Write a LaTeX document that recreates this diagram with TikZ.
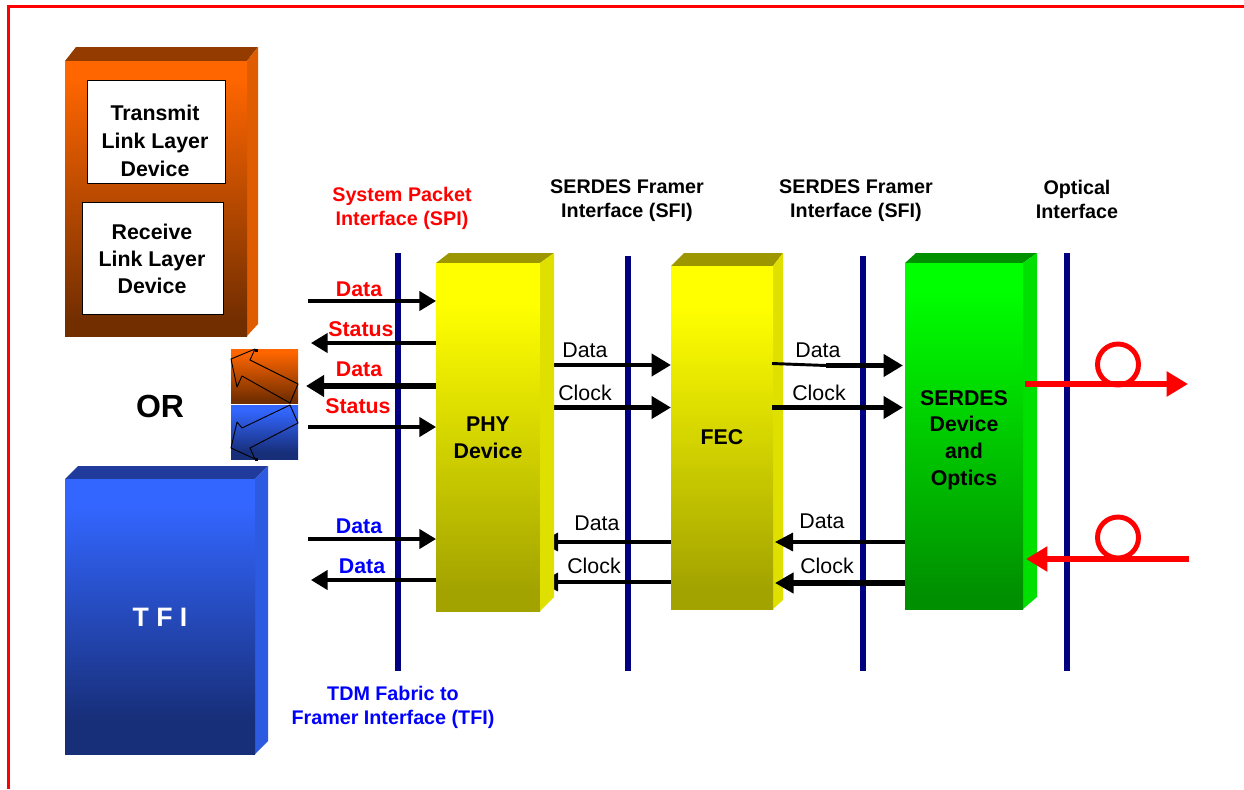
\documentclass[tikz,border=0pt]{standalone}
\usepackage{fontspec}
\setmainfont{Liberation Sans}
\usetikzlibrary{arrows.meta}
\definecolor{orT}{HTML}{FF6600}\definecolor{orB}{HTML}{732E00}
\definecolor{orS}{HTML}{E05C00}\definecolor{orU}{HTML}{943C00}
\definecolor{blT}{HTML}{3366FF}\definecolor{blB}{HTML}{172E78}
\definecolor{blS}{HTML}{2C5AE0}\definecolor{blU}{HTML}{1F3C9C}
\definecolor{yeT}{HTML}{FFFF00}\definecolor{yeB}{HTML}{A3A300}
\definecolor{yeU}{HTML}{9C9600}\definecolor{yeS}{HTML}{E0E000}
\definecolor{grT}{HTML}{00FF00}\definecolor{grB}{HTML}{008F00}
\definecolor{grS}{HTML}{00E000}\definecolor{grU}{HTML}{009000}
\definecolor{navyl}{HTML}{000080}
\pgfdeclareverticalshading{orangeg}{100bp}{color(0bp)=(orB); color(28bp)=(orB); color(72bp)=(orT); color(100bp)=(orT)}
\pgfdeclareverticalshading{blueg}{100bp}{color(0bp)=(blB); color(31bp)=(blB); color(70bp)=(blT); color(100bp)=(blT)}
\pgfdeclareverticalshading{yellowg}{100bp}{color(0bp)=(yeB); color(28bp)=(yeB); color(69bp)=(yeT); color(100bp)=(yeT)}
\pgfdeclareverticalshading{greeng}{100bp}{color(0bp)=(grB); color(27bp)=(grB); color(71bp)=(grT); color(100bp)=(grT)}
\tikzset{
  x=0.75pt,y=-0.75pt,
  boxfront/.style={inner sep=0,outer sep=0,align=center,font=\bfseries\fontsize{16}{20}\selectfont},
  whitebox/.style={draw=black,line width=0.7pt,fill=white,inner sep=0,outer sep=0},
  boxtext/.style={inner sep=0,align=center,font=\bfseries\fontsize{16}{20.5}\selectfont},
  bus/.style={draw=navyl,line width=4.5pt},
  thin arrow/.style={draw=black,line width=2.5pt,-{Triangle[length=12.5pt,width=14.5pt]}},
  big arrow/.style={draw=black,line width=4.7pt,-{Triangle[length=13.5pt,width=15.6pt]}},
  thick arrow/.style={draw=black,line width=3.7pt,-{Triangle[length=14.5pt,width=16.2pt]}},
  medium arrow/.style={draw=black,line width=2.4pt,-{Triangle[length=13.5pt,width=13.5pt]}},
  heavy back/.style={draw=black,line width=4pt,-{Triangle[length=14pt,width=15pt]}},
  red arrow/.style={draw=red,line width=4.4pt,-{Triangle[length=16pt,width=18pt]}},
  loopc/.style={draw=red,line width=3.7pt},
  hdr/.style={font=\bfseries\fontsize{14.8}{18}\selectfont,align=center,inner sep=0},
  lab/.style={font=\fontsize{16}{18}\selectfont,inner sep=0},
  redlab/.style={font=\bfseries\fontsize{16}{18}\selectfont,text=red,inner sep=0},
  bluelab/.style={font=\bfseries\fontsize{16}{18}\selectfont,text=blue,inner sep=0},
}
\begin{document}
\begin{tikzpicture}
\useasboundingbox (0,0) rectangle (1244,789);
\fill[white] (0,0) rectangle (1244,789);
% frame
\draw[red,line width=2.2pt] (8.5,789) -- (8.5,6.5) -- (1244,6.5);

% orange block
\fill[orU] (65,61) -- (76,47) -- (258,47) -- (247,61) -- cycle;
\fill[orS] (247,61) -- (258,47) -- (258,324) -- (247,336) -- cycle;
\node[boxfront,shade,shading=orangeg,minimum width={182*0.75pt},minimum height={275*0.75pt}] (llbox) at (156,198.5) {};
\node[whitebox,minimum width={138*0.75pt},minimum height={103*0.75pt}] (tx) at (156,131.5) {};
\node[boxtext,font=\bfseries\fontsize{16}{21}\selectfont] (txt) at (155,141) {Transmit\\Link Layer\\Device};
\node[whitebox,minimum width={141*0.75pt},minimum height={112*0.75pt}] (rx) at (152.5,258) {};
\node[boxtext] (rxt) at (152,259) {Receive\\Link Layer\\Device};

% OR
\node[font=\bfseries\fontsize{24}{26}\selectfont,inner sep=0] (ortext) at (160,406) {OR};

% small squares
\node[inner sep=0,outer sep=0,shade,shading=orangeg,minimum width={67*0.75pt},minimum height={54*0.75pt}] (orsq) at (264.5,376) {};
\node[inner sep=0,outer sep=0,shade,shading=blueg,minimum width={67*0.75pt},minimum height={54*0.75pt}] (blsq) at (264.5,432) {};
\draw[black,line width=0.7pt,line join=round] (231,359) -- (255,349) -- (250,360) -- (298,384) -- (290,403) -- (242,376) -- (237,387) -- cycle;
\draw[black,line width=0.7pt,line join=round] (231,448) -- (255,459) -- (250,448) -- (298,423) -- (290,405) -- (242,428) -- (237,422) -- cycle;
\fill[black] (254.5,348.5) rectangle (257.5,351.5);
\fill[black] (254.5,458) rectangle (257.5,461);

% blue block
\fill[blU] (65,479) -- (78,466) -- (268,466) -- (255,479) -- cycle;
\fill[blS] (255,479) -- (268,466) -- (268,741) -- (255,754) -- cycle;
\node[boxfront,shade,shading=blueg,minimum width={190*0.75pt},minimum height={275*0.75pt}] (tfi) at (160,616.5) {};
\node[font=\bfseries\fontsize{20}{22}\selectfont,text=white,inner sep=0] (tfitext) at (160,617) {T F I};

% buses
\coordinate (b1t) at (398,253); \coordinate (b1b) at (398,671);
\coordinate (b2t) at (628,256); \coordinate (b2b) at (628,671);
\coordinate (b3t) at (863,256); \coordinate (b3b) at (863,671);
\coordinate (b4t) at (1067,253); \coordinate (b4b) at (1067,671);
\draw[bus] (b1t) -- (b1b);
\draw[bus] (b2t) -- (b2b);
\draw[bus] (b3t) -- (b3b);
\draw[bus] (b4t) -- (b4b);

% PHY
\fill[yeU] (436,263) -- (449,253) -- (554,253) -- (540,263) -- cycle;
\node[boxfront,shade,shading=yellowg,minimum width={104*0.75pt},minimum height={348*0.75pt}] (phy) at (488,437) {};
\node[boxfront] (phyt) at (488,437.5) {PHY\\Device};

% FEC
\fill[yeU] (671,266) -- (684,253) -- (783,253) -- (773,266) -- cycle;
\fill[yeS] (773,266) -- (783,253) -- (783,600) -- (773,609) -- cycle;
\node[boxfront,shade,shading=yellowg,minimum width={102*0.75pt},minimum height={343*0.75pt}] (fec) at (722,437.5) {};
\node[boxfront] (fect) at (722,437) {FEC};

% SERDES
\fill[grU] (905,263) -- (916,253) -- (1037,253) -- (1023,263) -- cycle;
\fill[grS] (1023,263) -- (1037,253) -- (1037,597) -- (1023,609) -- cycle;
\node[boxfront,shade,shading=greeng,minimum width={118*0.75pt},minimum height={346*0.75pt}] (ser) at (964,436) {};
\node[boxfront] (sert) at (964,440) {SERDES\\Device\\and\\Optics};

% SPI connectors
\coordinate (sa) at (308,301); \coordinate (ss) at (311,343);
\coordinate (sd) at (306,386); \coordinate (st) at (308,427);
\draw[thin arrow] (sa) -- (phy.west |- sa);
\draw[thin arrow] (phy.west |- ss) -- (ss);
\draw[big arrow] (phy.west |- sd) -- (sd);
\draw[thin arrow] (st) -- (phy.west |- st);
% TFI connectors
\coordinate (ta) at (308,539); \coordinate (tb) at (311,580);
\draw[thin arrow] (ta) -- (phy.west |- ta);
\draw[thin arrow] (phy.west |- tb) -- (tb);

% PHY-FEC
\coordinate (pf1) at (554,365); \coordinate (pf2) at (554,407.5);
\draw[thick arrow] (pf1) -- (fec.west |- pf1);
\draw[thick arrow] (pf2) -- (fec.west |- pf2);
\coordinate (fp1) at (540,542); \coordinate (fp2) at (540,582);
\draw[medium arrow] (fec.west |- fp1) -- (phy.east |- fp1);
\draw[medium arrow] (fec.west |- fp2) -- (phy.east |- fp2);
\fill[yeS] (540,263) -- (554,253) -- (554,597) -- (540,611) -- cycle;
% FEC-SERDES
\coordinate (fs1) at (772,363.5); \coordinate (fs1m) at (826,365.5); \coordinate (fs2) at (772,407.5);
\draw[draw=black,line width=2.2pt] (fs1) -- (fs1m);
\draw[thick arrow,shorten >=1.5pt] (fs1m) -- (ser.west |- fs1m);
\draw[thick arrow,shorten >=1.5pt] (fs2) -- (ser.west |- fs2);
\coordinate (sf1) at (775,542); \coordinate (sf2) at (775,583);
\draw[medium arrow] (ser.west |- sf1) -- (sf1);
\draw[heavy back] (ser.west |- sf2) -- (sf2);

% optical
\coordinate (oe) at (1188,384); \coordinate (oes) at (1025,384);
\coordinate (oi) at (1189,559); \coordinate (oit) at (1026,559);
\node[circle,loopc,minimum size={41*0.75pt},inner sep=0] (c1) at (1118,364.5) {};
\node[circle,loopc,minimum size={41*0.75pt},inner sep=0] (c2) at (1118,537.5) {};
\draw[red arrow] (oes) -- (oe);
\draw[red arrow] (oi) -- (oit);

% labels
\node[redlab] (l1) at (359,289) {Data};
\node[redlab] (l2) at (361,329) {Status};
\node[redlab] (l3) at (359,369) {Data};
\node[redlab] (l4) at (358,406) {Status};
\node[bluelab] (l5) at (359,526) {Data};
\node[bluelab] (l6) at (362,566) {Data};
\node[lab] (l7) at (585,350) {Data};
\node[lab] (l8) at (585,393) {Clock};
\node[lab] (l9) at (818,350) {Data};
\node[lab] (l10) at (819,393) {Clock};
\node[lab] (l11) at (597,523) {Data};
\node[lab] (l12) at (594,566) {Clock};
\node[lab] (l13) at (822,521) {Data};
\node[lab] (l14) at (827,566) {Clock};
% headers
\node[hdr,text=red] (h1) at (402,208.5) {System Packet\\Interface (SPI)};
\node[hdr] (h2) at (627,200.5) {SERDES Framer\\Interface (SFI)};
\node[hdr] (h3) at (856,200.5) {SERDES Framer\\Interface (SFI)};
\node[hdr] (h4) at (1077,199) {Optical\\Interface};
\node[hdr,text=blue] (h5) at (393,707.5) {TDM Fabric to\\Framer Interface (TFI)};
\end{tikzpicture}
\end{document}
